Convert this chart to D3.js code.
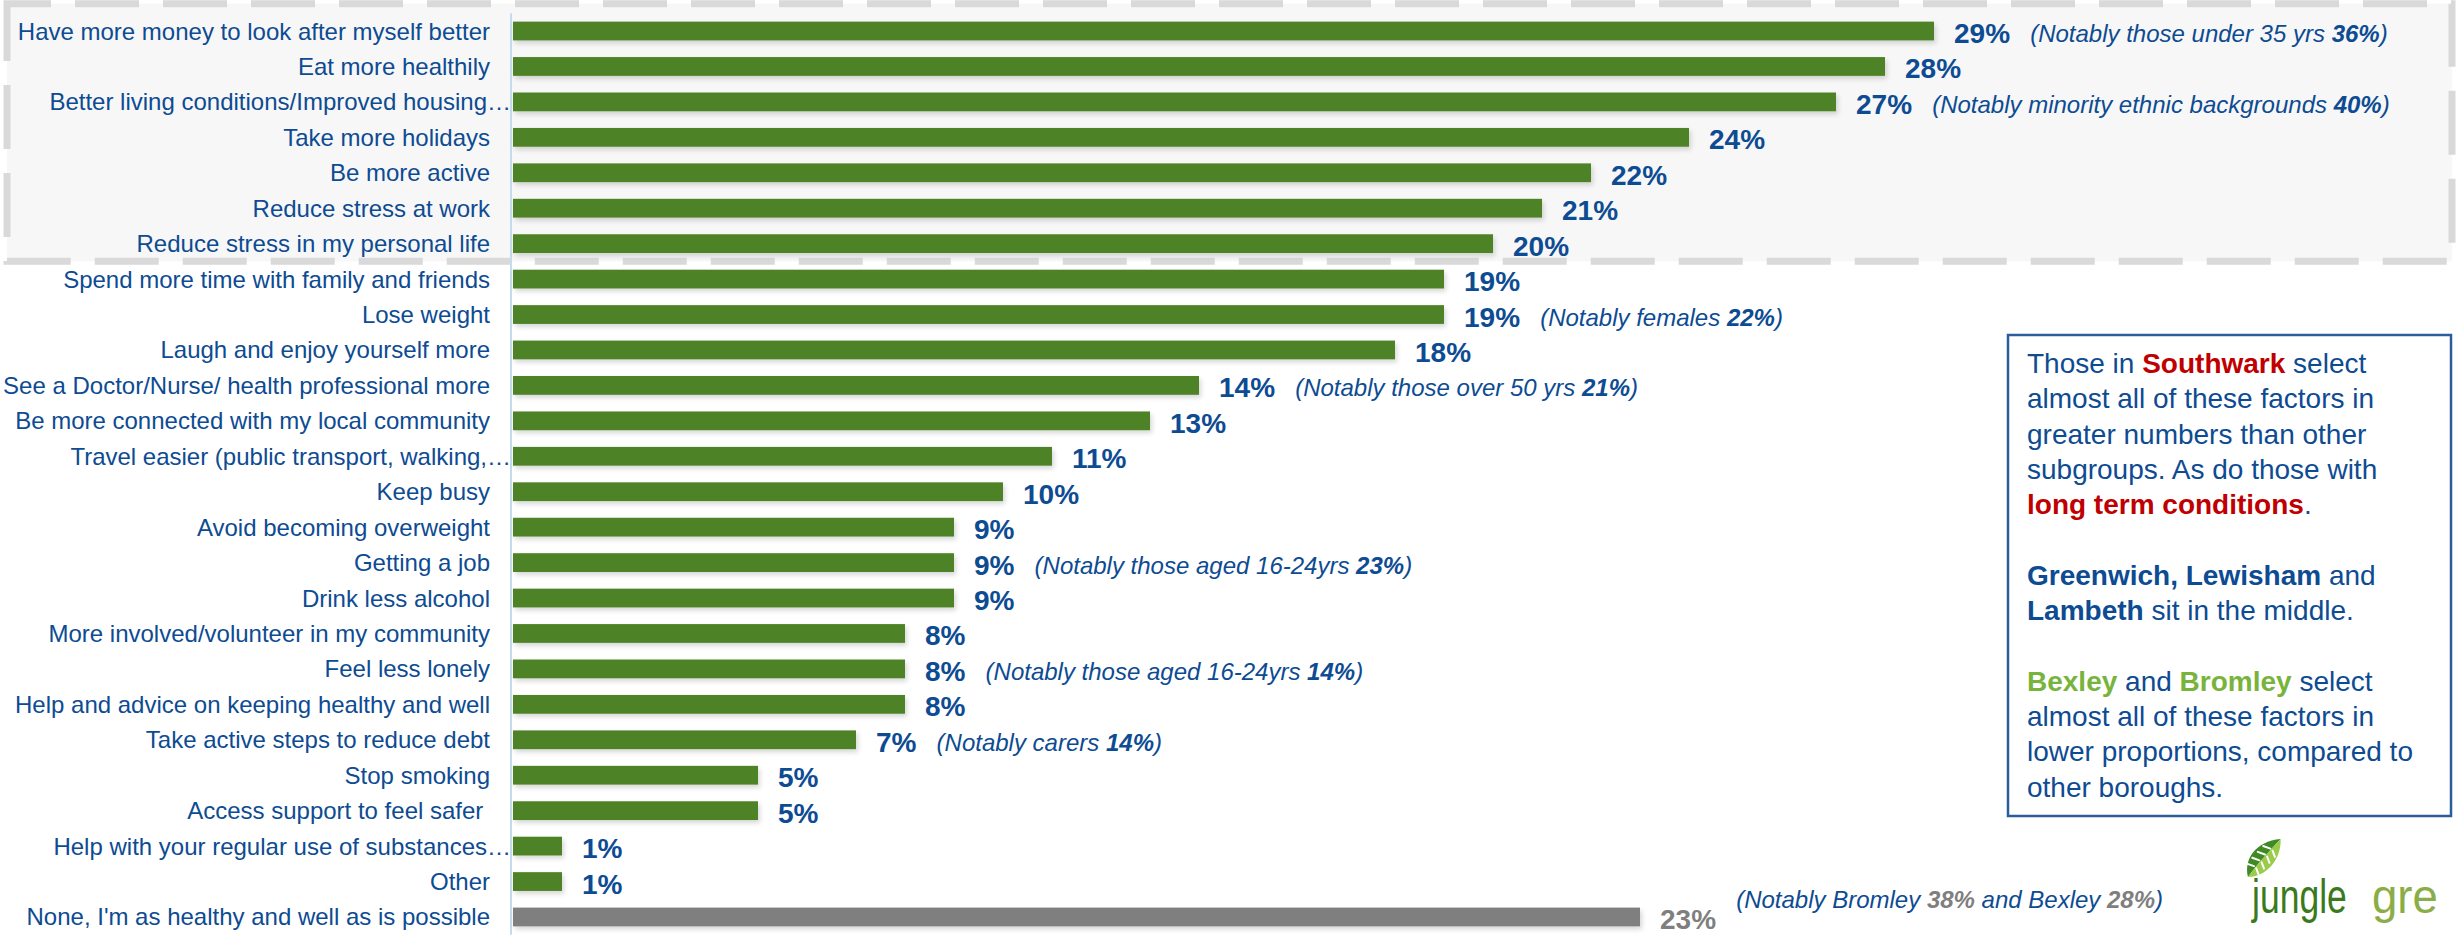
<!DOCTYPE html>
<html>
<head>
<meta charset="utf-8">
<script src="https://cdn.jsdelivr.net/npm/d3@7"></script>
<style>
  html, body { margin: 0; padding: 0; background: #ffffff; }
  svg { display: block; }
  text { font-family: "Liberation Sans", Arial, sans-serif; }
</style>
</head>
<body>
<svg id="chart" width="2458" height="937"></svg>
<script>
// Survey factors: "What would help you to be healthier and well?"
const categories = [
  "Have more money to look after myself better",
  "Eat more healthily",
  "Better living conditions/Improved housing…",
  "Take more holidays",
  "Be more active",
  "Reduce stress at work",
  "Reduce stress in my personal life",
  "Spend more time with family and friends",
  "Lose weight",
  "Laugh and enjoy yourself more",
  "See a Doctor/Nurse/ health professional more",
  "Be more connected with my local community",
  "Travel easier (public transport, walking,…",
  "Keep busy",
  "Avoid becoming overweight",
  "Getting a job",
  "Drink less alcohol",
  "More involved/volunteer in my community",
  "Feel less lonely",
  "Help and advice on keeping healthy and well",
  "Take active steps to reduce debt",
  "Stop smoking",
  "Access support to feel safer ",
  "Help with your regular use of substances…",
  "Other",
  "None, I'm as healthy and well as is possible"
];

// Percent of respondents selecting each factor
const values = [29, 28, 27, 24, 22, 21, 20, 19, 19, 18, 14, 13, 11, 10, 9, 9, 9, 8, 8, 8, 7, 5, 5, 1, 1, 23];

// Top factors grouped in the shaded panel
const topFactors = categories.slice(0, 7);

// The "none" response is shown apart from the factors
const noneCategory = "None, I'm as healthy and well as is possible";

// Subgroup notes beside selected bars
const noteCategories = [
  "Have more money to look after myself better",
  "Better living conditions/Improved housing…",
  "Lose weight",
  "See a Doctor/Nurse/ health professional more",
  "Getting a job",
  "Feel less lonely",
  "Take active steps to reduce debt",
  "None, I'm as healthy and well as is possible"
];
const noteTexts = [
  "(Notably those under 35 yrs 36%)",
  "(Notably minority ethnic backgrounds 40%)",
  "(Notably females 22%)",
  "(Notably those over 50 yrs 21%)",
  "(Notably those aged 16-24yrs 23%)",
  "(Notably those aged 16-24yrs 14%)",
  "(Notably carers 14%)",
  "(Notably Bromley 38% and Bexley 28%)"
];

// Commentary panel: each line is a list of [text, emphasis] runs
const commentaryLines = [
  [["Those in ", ""], ["Southwark", "red"], [" select", ""]],
  [["almost all of these factors in", ""]],
  [["greater numbers than other", ""]],
  [["subgroups. As do those with", ""]],
  [["long term conditions", "red"], [".", ""]],
  [],
  [["Greenwich, Lewisham", "bold"], [" and", ""]],
  [["Lambeth", "bold"], [" sit in the middle.", ""]],
  [],
  [["Bexley", "green"], [" and ", ""], ["Bromley", "green"], [" select", ""]],
  [["almost all of these factors in", ""]],
  [["lower proportions, compared to", ""]],
  [["other boroughs.", ""]]
];

const BLUE = "#0d4b92";
const GREEN_BAR = "#4e8226";
const GREY = "#7f7f7f";
const RED = "#c00000";
const LIGHT_GREEN = "#78b43c";

const svg = d3.select("#chart");

const axisX = 511;
const x = d3.scaleLinear().domain([0, 35]).range([513, 513 + 35 * 49]);
const y = d3.scaleBand()
  .domain(categories)
  .range([13.3, 934.7])
  .paddingInner(0.47)
  .paddingOuter(0.235);
const yc = c => y(c) + y.bandwidth() / 2;

// Filters: soft bar edges with a faint drop shadow
const defs = svg.append("defs");
const f = defs.append("filter").attr("id", "barShadow")
  .attr("x", "-5%").attr("y", "-60%").attr("width", "112%").attr("height", "260%");
f.append("feGaussianBlur").attr("in", "SourceAlpha").attr("stdDeviation", 2.5).attr("result", "blur");
f.append("feOffset").attr("in", "blur").attr("dx", 2).attr("dy", 3).attr("result", "off");
f.append("feComponentTransfer").attr("in", "off").attr("result", "shadow")
  .append("feFuncA").attr("type", "linear").attr("slope", 0.16);
f.append("feGaussianBlur").attr("in", "SourceGraphic").attr("stdDeviation", 0.7).attr("result", "soft");
const fm = f.append("feMerge");
fm.append("feMergeNode").attr("in", "shadow");
fm.append("feMergeNode").attr("in", "soft");

// Shaded dashed panel behind the top factors
const panelTop = y(topFactors[0]) - 18;
const lastTop = topFactors[topFactors.length - 1];
const nextCat = categories[topFactors.length];
const panelBottom = (y(lastTop) + y.bandwidth() + y(nextCat)) / 2;
svg.append("rect")
  .attr("x", 7).attr("y", panelTop)
  .attr("width", 2452 - 7).attr("height", panelBottom - panelTop)
  .attr("fill", "#f7f7f7")
  .attr("stroke", "#d9d9d9")
  .attr("stroke-width", 7)
  .attr("stroke-dasharray", "64 24")
  .attr("stroke-dashoffset", 20);

// Category axis line
svg.append("line")
  .attr("x1", axisX).attr("x2", axisX)
  .attr("y1", y.range()[0]).attr("y2", y.range()[1])
  .attr("stroke", "#c6dbf0").attr("stroke-width", 2);

// Category labels
svg.append("g").selectAll("text")
  .data(categories)
  .join("text")
  .attr("x", d => d.endsWith("…") ? axisX : 490)
  .attr("y", d => yc(d) + 8.5)
  .attr("text-anchor", "end")
  .attr("font-size", 24)
  .attr("fill", BLUE)
  .style("white-space", "pre")
  .text(d => d);

// Bars
const rows = categories.map((c, i) => ({ c, v: values[i] }));
svg.append("g").attr("filter", "url(#barShadow)").selectAll("rect")
  .data(rows)
  .join("rect")
  .attr("x", x(0))
  .attr("y", d => y(d.c))
  .attr("width", d => x(d.v) - x(0))
  .attr("height", y.bandwidth())
  .attr("fill", d => d.c === noneCategory ? GREY : GREEN_BAR);

// Value labels
const valueLabels = svg.append("g").selectAll("text")
  .data(rows)
  .join("text")
  .attr("x", d => x(d.v) + 20)
  .attr("y", d => yc(d.c) + 12)
  .attr("font-size", 28)
  .attr("font-weight", "bold")
  .attr("fill", d => d.c === noneCategory ? GREY : BLUE)
  .text(d => d.v + "%");

const labelEnd = {};
valueLabels.each(function (d) {
  const b = this.getBBox();
  labelEnd[d.c] = b.x + b.width;
});

// Subgroup notes, percentages in bold
const notes = svg.append("g");
noteCategories.forEach((c, i) => {
  const isNone = c === noneCategory;
  const t = notes.append("text")
    .attr("x", labelEnd[c] + 20)
    .attr("y", isNone ? yc(c) - 9 : yc(c) + 11)
    .attr("font-size", 24)
    .attr("font-style", "italic")
    .attr("fill", BLUE);
  noteTexts[i].split(/(\d+%)/).filter(s => s.length).forEach(part => {
    const pct = /^\d+%$/.test(part);
    t.append("tspan")
      .attr("font-weight", pct ? "bold" : null)
      .attr("fill", pct && isNone ? GREY : null)
      .text(part);
  });
});

// Commentary panel
const box = svg.append("g");
box.append("rect")
  .attr("x", 2008).attr("y", 335)
  .attr("width", 443).attr("height", 481)
  .attr("fill", "#ffffff")
  .attr("stroke", "#2b5c9c")
  .attr("stroke-width", 2.5);
commentaryLines.forEach((line, i) => {
  if (!line.length) return;
  const t = box.append("text")
    .attr("x", 2027)
    .attr("y", 373 + i * 35.3)
    .attr("font-size", 28)
    .attr("fill", BLUE)
    .style("white-space", "pre");
  line.forEach(([s, k]) => {
    t.append("tspan")
      .attr("font-weight", k ? "bold" : null)
      .attr("fill", k === "red" ? RED : k === "green" ? LIGHT_GREEN : null)
      .text(s);
  });
});

// Brand mark
const logo = svg.append("g");
const leaf = logo.append("g").attr("transform", "translate(2248,877) rotate(-47)");
leaf.append("path")
  .attr("d", "M0,0 C10,-15 31,-19 50,-2 C35,-2 16,-2 0,0 Z")
  .attr("fill", "#3f8a24");
leaf.append("path")
  .attr("d", "M0,0 C16,-2 35,-2 50,-2 C35,13 12,13 0,0 Z")
  .attr("fill", "#9acb4a");
[12, 20, 28, 36].forEach(p => {
  leaf.append("line")
    .attr("x1", p).attr("y1", -3).attr("x2", p - 3).attr("y2", -10)
    .attr("stroke", "#ffffff").attr("stroke-width", 2).attr("stroke-linecap", "round");
  leaf.append("line")
    .attr("x1", p).attr("y1", 0).attr("x2", p - 3).attr("y2", 6)
    .attr("stroke", "#ffffff").attr("stroke-width", 2).attr("stroke-linecap", "round");
});
logo.append("g")
  .attr("transform", "translate(2252,913) scale(0.74,1)")
  .append("text")
  .attr("font-family", "'Open Sans', sans-serif")
  .attr("font-size", 48)
  .attr("fill", "#3a7a1c")
  .text("jungle");
logo.append("g")
  .attr("transform", "translate(2372,913) scale(0.95,1)")
  .append("text")
  .attr("font-family", "'Open Sans', sans-serif")
  .attr("font-size", 48)
  .attr("fill", "#8aad47")
  .text("gre");
</script>
</body>
</html>
